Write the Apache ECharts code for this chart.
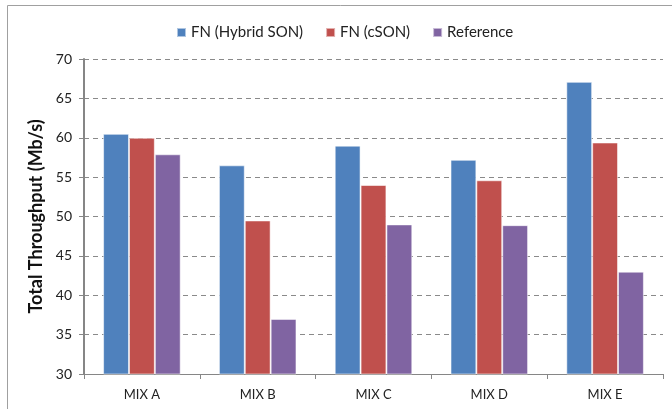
<!DOCTYPE html>
<html><head><meta charset="utf-8">
<script src="https://cdn.jsdelivr.net/npm/echarts@6/dist/echarts.min.js"></script>
<style>html,body{margin:0;padding:0;background:#fff}#c{width:672px;height:409px}</style>
</head><body><div id="c"></div>
<script>
const categories = ['MIX A','MIX B','MIX C','MIX D','MIX E'];
const seriesNames = ['FN (Hybrid SON)','FN (cSON)','Reference'];
const hybridSON = [60.5, 56.5, 59.0, 57.2, 67.1];
const cSON = [60.0, 49.5, 54.0, 54.6, 59.4];
const reference = [57.9, 37.0, 49.0, 48.9, 43.0];
const yTicks = [30,35,40,45,50,55,60,65,70];
const colors = ['#4F81BD','#C0504D','#8064A2'];
const font = 'Lato, "Open Sans", sans-serif';
const chart = echarts.init(document.getElementById('c'));
const mk = (name, data, i) => ({
  name, type: 'bar', data, barGap: '0%', barCategoryGap: '33%',
  itemStyle: {color: colors[i], borderColor: 'rgba(255,255,255,0.55)', borderWidth: 1},
  emphasis: {disabled: true}
});
chart.setOption({
  animation: false,
  textStyle: {fontFamily: font},
  graphic: [{type: 'rect', shape: {x: 7.5, y: 5.5, width: 800, height: 600}, style: {fill: 'none', stroke: '#a0a0a0', lineWidth: 1}}],
  legend: {
    top: 20, left: 171, itemWidth: 9, itemHeight: 9, itemGap: 22,
    icon: 'rect', textStyle: {fontSize: 15, color: '#222', fontFamily: font},
    data: seriesNames
  },
  grid: {left: 84, right: 9, top: 59, bottom: 35, containLabel: false},
  xAxis: {
    type: 'category', data: categories,
    axisLine: {lineStyle: {color: '#868686', width: 1}},
    axisTick: {show: true, length: 5, lineStyle: {color: '#868686'}},
    axisLabel: {color: '#222', fontSize: 13, margin: 14, fontFamily: font}
  },
  yAxis: {
    type: 'value', min: 30, max: 70, interval: 5,
    name: 'Total Throughput (Mb/s)', nameLocation: 'middle', nameGap: 33,
    nameTextStyle: {fontSize: 18, fontWeight: 'bold', color: '#111', fontFamily: font},
    axisLine: {show: true, lineStyle: {color: '#868686', width: 2}},
    axisTick: {show: true, length: 5, lineStyle: {color: '#868686'}},
    axisLabel: {color: '#222', fontSize: 14, margin: 12, fontFamily: font,
      formatter: v => yTicks.includes(v) ? String(v) : ''},
    splitLine: {show: true, lineStyle: {color: '#8a8a8a', type: [5, 4], width: 1}}
  },
  series: [mk(seriesNames[0], hybridSON, 0), mk(seriesNames[1], cSON, 1), mk(seriesNames[2], reference, 2)]
});
</script></body></html>
